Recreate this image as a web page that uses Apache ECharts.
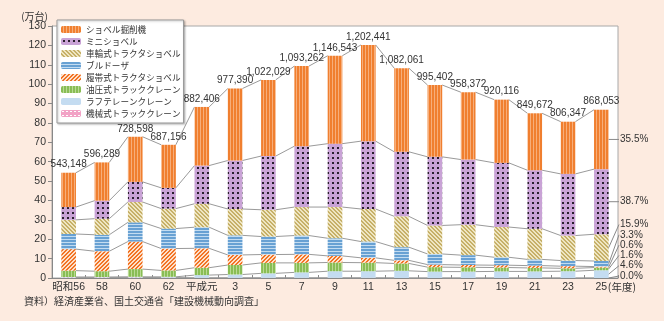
<!DOCTYPE html>
<html>
<head>
<meta charset="utf-8">
<script src="https://cdn.jsdelivr.net/npm/echarts@6/dist/echarts.min.js"></script>
<style>
  html, body { margin: 0; padding: 0; background: #fdebe0; }
  #chart { width: 664px; height: 321px; }
</style>
</head>
<body>
<div id="chart"></div>
<script>
// 年度
const categories = ['昭和56', '58', '60', '62', '平成元', '3', '5', '7', '9', '11', '13', '15', '17', '19', '21', '23', '25'];
// 合計台数（台）
const totalUnits = [543148, 596289, 728598, 687156, 882406, 977390, 1022029, 1093262, 1146543, 1202441, 1082061, 995402, 958372, 920116, 849672, 806347, 868053];

// 機種別台数（万台）
const shovel       = [17.71, 19.73, 23.26, 22.22, 30.24, 37.14, 39.30, 41.33, 45.35, 49.64, 43.11, 37.04, 34.74, 32.61, 29.37, 26.93, 30.66];
const mini         = [6.6, 9.3, 10.4, 10.7, 19.7, 25.0, 27.7, 31.4, 32.7, 35.0, 33.3, 35.4, 33.6, 33.1, 30.2, 31.8, 33.59];
const wheel        = [7.3, 8.3, 10.5, 10.3, 12.1, 13.6, 13.8, 14.7, 16.1, 16.8, 15.9, 14.7, 15.7, 15.6, 15.8, 12.9, 13.80];
const bulldozer    = [7.8, 8.5, 9.9, 10.3, 10.9, 10.1, 9.3, 9.7, 9.1, 8.4, 6.8, 5.5, 5.1, 4.1, 3.2, 2.9, 2.86];
const crawler      = [11.1, 10.3, 14.2, 11.3, 10.0, 5.2, 4.3, 4.4, 3.4, 2.5, 1.6, 1.3, 1.2, 1.2, 1.2, 1.1, 0.52];
const hydraulic    = [3.3, 3.0, 4.0, 3.3, 3.8, 4.9, 5.4, 4.9, 4.5, 4.4, 3.8, 2.3, 2.2, 2.0, 1.8, 1.5, 1.39];
const roughTerrain = [0.2, 0.2, 0.3, 0.4, 1.4, 1.7, 2.3, 2.8, 3.4, 3.4, 3.7, 3.3, 3.3, 3.4, 3.4, 3.5, 3.99];
const mechanical   = [0.3, 0.3, 0.3, 0.2, 0.1, 0.1, 0.1, 0.1, 0.1, 0.1, 0.0, 0.0, 0.0, 0.0, 0.0, 0.0, 0.0];

// 平成25年度の構成比（％）：上から順に
const latestShares = [35.5, 38.7, 15.9, 3.3, 0.6, 1.6, 4.6, 0.0];

const yTicks = { min: 0, max: 130, interval: 10 };

const JP = '"Noto Sans CJK JP", sans-serif';
const NUM = '"Liberation Sans", "Noto Sans CJK JP", sans-serif';
const NARROW = '"Liberation Sans Narrow", "Liberation Sans", "Noto Sans CJK JP", sans-serif';
const BAR_RATIO = 0.44;

function pattern(w, h, paint) {
  const c = document.createElement('canvas');
  c.width = w; c.height = h;
  paint(c.getContext('2d'));
  return { image: c, repeat: 'repeat' };
}

const fills = {
  shovel: pattern(3, 1, g => { g.fillStyle = '#f07f2f'; g.fillRect(0, 0, 3, 1); g.fillStyle = '#f7ae7a'; g.fillRect(2, 0, 1, 1); }),
  mini: pattern(5, 5, g => { g.fillStyle = '#c9a3d6'; g.fillRect(0, 0, 5, 5); g.fillStyle = '#2a1f2e'; g.fillRect(2, 2, 2, 2); }),
  wheel: pattern(4, 4, g => {
    g.fillStyle = '#efe6c2'; g.fillRect(0, 0, 4, 4);
    g.fillStyle = '#c6b068';
    for (let i = 0; i < 4; i++) { g.fillRect(i, i, 1, 1); g.fillRect((i + 1) % 4, i, 1, 1); }
  }),
  bulldozer: pattern(1, 3, g => { g.fillStyle = '#68a1d3'; g.fillRect(0, 0, 1, 3); g.fillStyle = '#c3dcf1'; g.fillRect(0, 2, 1, 1); }),
  crawler: pattern(4, 4, g => {
    g.fillStyle = '#fde0cb'; g.fillRect(0, 0, 4, 4);
    g.fillStyle = '#f27425';
    for (let i = 0; i < 4; i++) { g.fillRect(3 - i, i, 1, 1); g.fillRect((4 - i) % 4, i, 1, 1); }
  }),
  hydraulic: pattern(3, 1, g => { g.fillStyle = '#89bd55'; g.fillRect(0, 0, 3, 1); g.fillStyle = '#b9da94'; g.fillRect(2, 0, 1, 1); }),
  rough: '#c4dcf1',
  mechanical: pattern(4, 4, g => { g.fillStyle = '#f2a3c6'; g.fillRect(0, 0, 4, 4); g.fillStyle = '#ffffff'; g.fillRect(1, 1, 2, 1); })
};

// 下から積み上げる順
const stackSeries = [
  { name: '機械式トラッククレーン', data: mechanical, color: fills.mechanical },
  { name: 'ラフテレーンクレーン', data: roughTerrain, color: fills.rough },
  { name: '油圧式トラッククレーン', data: hydraulic, color: fills.hydraulic },
  { name: '履帯式トラクタショベル', data: crawler, color: fills.crawler },
  { name: 'ブルドーザ', data: bulldozer, color: fills.bulldozer },
  { name: '車輪式トラクタショベル', data: wheel, color: fills.wheel },
  { name: 'ミニショベル', data: mini, color: fills.mini },
  { name: 'ショベル掘削機', data: shovel, color: fills.shovel }
];

const cumulative = categories.map((_, i) => {
  let s = 0;
  return stackSeries.map(ser => (s += ser.data[i]));
});

const barSeries = stackSeries.map((ser, idx) => ({
  name: ser.name,
  type: 'bar',
  stack: 'total',
  barWidth: (BAR_RATIO * 100) + '%',
  data: ser.data,
  itemStyle: { color: ser.color },
  z: 3,
  label: idx === stackSeries.length - 1 ? {
    show: true,
    position: 'top',
    distance: 3,
    fontSize: 10,
    fontFamily: NARROW,
    color: '#333',
    formatter: p => totalUnits[p.dataIndex].toLocaleString('en-US')
  } : { show: false }
}));

// 隣り合う棒の同じ区切り同士を結ぶ線
const connectorSeries = {
  type: 'custom',
  silent: true,
  z: 2,
  data: categories.map((_, i) => [i, 0]),
  encode: { x: 0, y: 1 },
  renderItem(params, api) {
    const i = api.value(0);
    if (i >= categories.length - 1) return null;
    const half = api.size([1, 0])[0] * BAR_RATIO / 2;
    const children = cumulative[i].map((v, k) => {
      const a = api.coord([i, v]);
      const b = api.coord([i + 1, cumulative[i + 1][k]]);
      return {
        type: 'line',
        shape: { x1: a[0] + half, y1: a[1], x2: b[0] - half, y2: b[1] },
        style: { stroke: '#9a9a9a', lineWidth: 1 }
      };
    });
    return { type: 'group', children };
  }
};

// 最新年度の構成比ラベルと引出線
const shareSeries = {
  type: 'custom',
  silent: true,
  z: 4,
  clip: false,
  data: [[categories.length - 1, 0]],
  encode: { x: 0, y: 1 },
  renderItem(params, api) {
    const i = api.value(0);
    const band = api.size([1, 0])[0];
    const half = band * BAR_RATIO / 2;
    const base = api.coord([i, 0]);
    const cx = base[0];
    const textX = cx + band / 2 + 2;
    const children = [];
    let prevY = Infinity;
    const cum = cumulative[i];
    cum.forEach((top, k) => {
      const bottom = k === 0 ? 0 : cum[k - 1];
      const midY = api.coord([i, (top + bottom) / 2])[1];
      const labelY = k === 0 ? Math.min(midY, base[1] - 2) : Math.min(midY, prevY - 10.3);
      prevY = labelY;
      children.push({
        type: 'line',
        shape: { x1: cx + half, y1: midY, x2: textX - 1, y2: labelY },
        style: { stroke: '#8a8a8a', lineWidth: 1 }
      });
      children.push({
        type: 'text',
        x: textX, y: labelY,
        style: {
          text: latestShares[stackSeries.length - 1 - k].toFixed(1) + '%',
          fontSize: 10, fontFamily: NARROW, fill: '#333',
          align: 'left', verticalAlign: 'middle'
        }
      });
    });
    children.push({
      type: 'text',
      x: cx + 6.5, y: base[1] + 4,
      style: { text: '(年度)', fontSize: 10.5, fontFamily: JP, fill: '#333', align: 'left', verticalAlign: 'top' }
    });
    return { type: 'group', children };
  }
};

const chart = echarts.init(document.getElementById('chart'), null, { renderer: 'canvas' });
chart.setOption({
  backgroundColor: '#fdebe0',
  animation: false,
  grid: {
    left: 52, right: 46, top: 26, bottom: 43,
    show: true, backgroundColor: '#ffffff', borderColor: '#a8a8a8', borderWidth: 1
  },
  legend: {
    orient: 'vertical',
    left: 57, top: 20,
    data: stackSeries.map(s => s.name).reverse(),
    itemWidth: 20, itemHeight: 7, itemGap: 1,
    selectedMode: false,
    backgroundColor: '#ffffff',
    borderColor: '#999', borderWidth: 1,
    padding: [4, 3, 4, 4],
    shadowColor: 'rgba(0,0,0,0.25)', shadowBlur: 2, shadowOffsetX: 1, shadowOffsetY: 1,
    textStyle: { fontSize: 8.6, lineHeight: 11, fontFamily: JP, color: '#333' }
  },
  xAxis: {
    type: 'category',
    data: categories,
    axisLine: { lineStyle: { color: '#888' } },
    axisTick: { show: true, inside: true, length: 3, lineStyle: { color: '#888' } },
    axisLabel: { interval: 0, margin: 4, fontSize: 10.5, fontFamily: NUM, color: '#333' }
  },
  yAxis: {
    type: 'value',
    min: yTicks.min, max: yTicks.max, interval: yTicks.interval,
    name: '(万台)',
    nameLocation: 'end',
    nameGap: 3,
    nameTextStyle: { align: 'right', verticalAlign: 'bottom', padding: [0, 4, 0, 0], fontSize: 10, fontFamily: JP, color: '#333' },
    axisLine: { show: true, lineStyle: { color: '#888' } },
    axisTick: { show: true, length: 4, lineStyle: { color: '#888' } },
    splitLine: { show: false },
    axisLabel: { margin: 6, fontSize: 10.5, fontFamily: NUM, color: '#333' }
  },
  graphic: [{
    type: 'text',
    left: 24, top: 296,
    style: { text: '資料）経済産業省、国土交通省「建設機械動向調査」', fontSize: 10, fontFamily: JP, fill: '#333' }
  }],
  series: [connectorSeries, ...barSeries, shareSeries]
});
</script>
</body>
</html>
